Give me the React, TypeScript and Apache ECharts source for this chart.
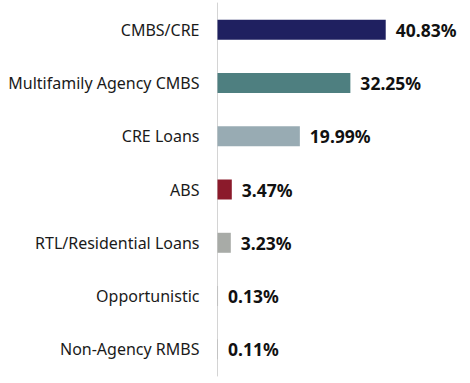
import React, { useEffect, useRef } from "react";
import * as echarts from "echarts";

const categories = [
  "CMBS/CRE",
  "Multifamily Agency CMBS",
  "CRE Loans",
  "ABS",
  "RTL/Residential Loans",
  "Opportunistic",
  "Non-Agency RMBS",
];
const values = [40.83, 32.25, 19.99, 3.47, 3.23, 0.13, 0.11];
const colors = ["#1f2060", "#4e7f80", "#98abb3", "#8b1a2b", "#a8aba7", "#b0b0b0", "#b0b0b0"];

export default function App() {
  const ref = useRef<HTMLDivElement>(null);
  useEffect(() => {
    const chart = echarts.init(ref.current!, undefined, { renderer: "svg" });
    chart.setOption({
      animation: false,
      grid: { left: 217.5, right: 46.5, top: 3, bottom: 7, containLabel: false },
      xAxis: {
        type: "value",
        min: 0,
        max: 50,
        show: false,
      },
      yAxis: {
        type: "category",
        inverse: true,
        data: categories,
        axisLine: { show: true, lineStyle: { color: "#d4d4d4", width: 1 } },
        axisTick: { show: false },
        axisLabel: {
          margin: 18,
          color: "#1a1a1a",
          fontSize: 16,
          fontFamily: "Noto Sans",
        },
      },
      series: [
        {
          type: "bar",
          barWidth: 20,
          data: values.map((v, i) => ({ value: v, itemStyle: { color: colors[i] } })),
          label: {
            show: true,
            position: "right",
            distance: 10,
            formatter: (p: any) => p.value.toFixed(2) + "%",
            color: "#111",
            fontWeight: "bold",
            fontSize: 17.5,
            fontFamily: "Noto Sans",
          },
        },
      ],
    });
    return () => chart.dispose();
  }, []);
  return <div ref={ref} style={{ width: 470, height: 383, position: "absolute", left: 0, top: 0 }} />;
}
